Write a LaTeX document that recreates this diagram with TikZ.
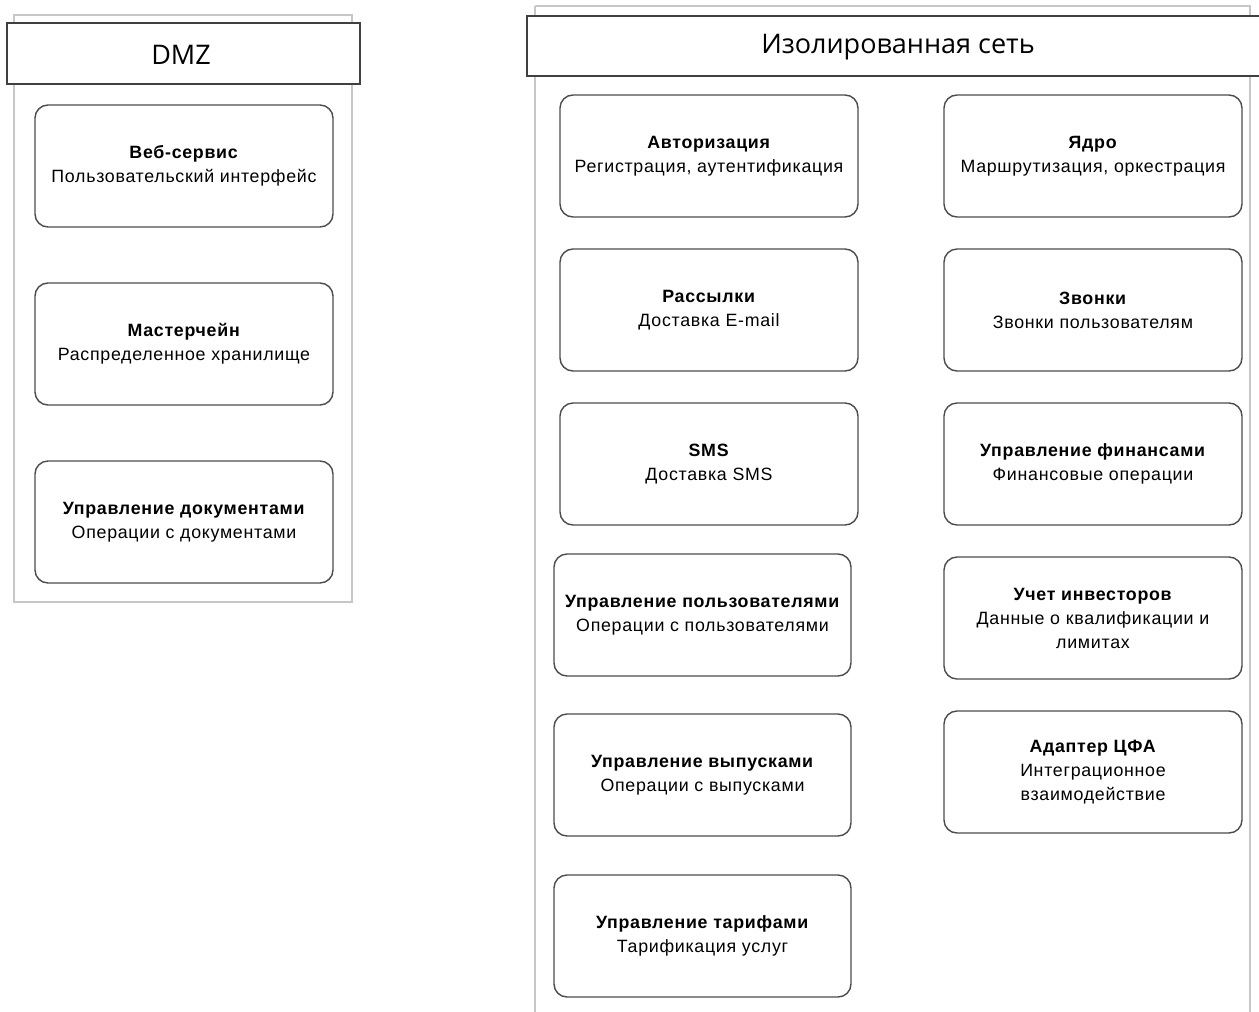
\documentclass[tikz,border=0pt]{standalone}
\usepackage{fontspec}
\setmainfont{Liberation Sans}
\newfontfamily\hdrfont{Open Sans}
\newfontfamily\svcfont[LetterSpace=4]{Liberation Sans}
\begin{document}
\begin{tikzpicture}[x=1pt,y=-1pt,
  container/.style={draw=black!22,line width=1.2pt},
  header/.style={draw=black!75,fill=white,line width=1.5pt,inner sep=0pt,
    font=\hdrfont\fontsize{27}{32}\selectfont},
  svc/.style={draw=black!70,fill=white,line width=1.4pt,rounded corners=13pt,
    minimum width=298pt,minimum height=122pt,inner sep=0pt,align=center,
    font=\svcfont\fontsize{17.8}{24}\selectfont},
  svcw/.style={svc,minimum width=297pt}]
\useasboundingbox (0,0) rectangle (1259,1012);
% containers
\draw[container] (14,15) rectangle (352,602);
\node[header,minimum width=353pt,minimum height=61pt] (dmzh) at (183.5,53.5) {};
\node[font=\hdrfont\fontsize{27}{32}\selectfont] (dmzt) at (181,55) {DMZ};
\draw[container] (535,6) -- (1250,6) -- (1250,1015);
\draw[container] (535,6) -- (535,1015);
\node[header,minimum width=740pt,minimum height=60pt,anchor=north west] (isoh) at (526,15) {};
\node[font=\hdrfont\fontsize{27}{32}\selectfont] (isot) at (898,47) {Изолированная сеть};
% DMZ services
\node[svc] (web) at (184,166) {\textbf{Веб-сервис}\\Пользовательский интерфейс};
\node[svc] (mc) at (184,344) {\textbf{Мастерчейн}\\Распределенное хранилище};
\node[svc] (doc) at (184,522) {\textbf{Управление документами}\\Операции с документами};
% isolated left column
\node[svc] (auth) at (709,156) {\textbf{Авторизация}\\Регистрация, аутентификация};
\node[svc] (mail) at (709,310) {\textbf{Рассылки}\\Доставка E-mail};
\node[svc] (sms) at (709,464) {\textbf{SMS}\\Доставка SMS};
\node[svcw] (users) at (702.5,615) {\textbf{Управление пользователями}\\Операции с пользователями};
\node[svcw] (rel) at (702.5,775) {\textbf{Управление выпусками}\\Операции с выпусками};
\node[svcw] (tar) at (702.5,936) {\textbf{Управление тарифами}\\Тарификация услуг};
% isolated right column
\node[svc] (core) at (1093,156) {\textbf{Ядро}\\Маршрутизация, оркестрация};
\node[svc] (calls) at (1093,310) {\textbf{Звонки}\\Звонки пользователям};
\node[svc] (fin) at (1093,464) {\textbf{Управление финансами}\\Финансовые операции};
\node[svc] (inv) at (1093,618) {\textbf{Учет инвесторов}\\Данные о квалификации и\\лимитах};
\node[svc] (cfa) at (1093,772) {\textbf{Адаптер ЦФА}\\Интеграционное\\взаимодействие};
\end{tikzpicture}
\end{document}
